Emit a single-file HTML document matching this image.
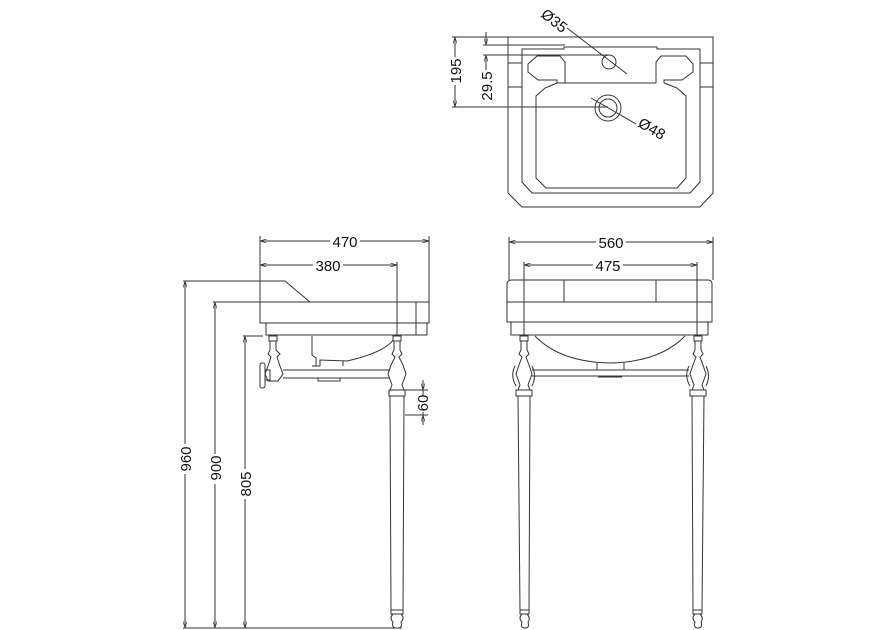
<!DOCTYPE html>
<html><head><meta charset="utf-8"><style>
html,body{margin:0;padding:0;background:#fff;}
svg{display:block;}
text{font-family:"Liberation Sans",sans-serif;font-size:15px;fill:#111;}
</style></head><body>
<svg width="891" height="630" viewBox="0 0 891 630" xmlns="http://www.w3.org/2000/svg">
<defs>
<marker id="a" viewBox="0 0 10 6" refX="10" refY="3" markerWidth="7" markerHeight="4" orient="auto-start-reverse"><path d="M0,0 L10,3 L0,6" fill="none" stroke="#333" stroke-width="1"/></marker>
</defs>
<g fill="none" stroke="#333" stroke-width="1">
<!-- TOP VIEW -->
<path d="M508,37 L713,37 L713,193 L700,207 L522,207 L508,193 Z"/>
<path d="M522,49 L564,49 L564,47 L657,47 L657,49 L700,49 L700,182 L690,193 L532,193 L522,182 Z"/>
<path d="M508,63 L522,63 M508,87 L522,87 M700,63 L713,63 M700,87 L713,87"/>
<path d="M537,56 L560,56 L565,62 L565,83 L557,83 L557,80 L538,80 L528,72 L528,64 Z"/>
<path d="M565,83 L656,83 L656,62 L661,56 L686,56 L693,64 L693,72 L682,80 L664,80 L664,83"/>
<path d="M557,83 L545,88 L536,96 L536,178 L546,188 L677,188 L686,178 L686,96 L677,88 L664,83"/>
<circle cx="609" cy="62" r="7"/>
<circle cx="608" cy="108" r="13"/><circle cx="608" cy="108" r="9"/>
<path d="M567,28 L627,74 M591,98 L636,124"/>
<path d="M452,37 L508,37 M452,107 L608,107"/>
<line x1="455" y1="107" x2="455" y2="37" marker-start="url(#a)" marker-end="url(#a)"/>
<path d="M483,45 L565,45 M483,55 L609,55"/>
<line x1="486" y1="32" x2="486" y2="45" marker-end="url(#a)"/>
<line x1="486" y1="100" x2="486" y2="55" marker-end="url(#a)"/>
<!-- SIDE VIEW -->
<line x1="260" y1="241" x2="429" y2="241" marker-start="url(#a)" marker-end="url(#a)"/>
<path d="M260,236 L260,302 M429,236 L429,302"/>
<line x1="260" y1="265" x2="397" y2="265" marker-start="url(#a)" marker-end="url(#a)"/>
<path d="M397,262 L397,335"/>
<path d="M183,281 L285,281 L310,302 M213,302 L260,302 M243,336 L263,336"/>
<rect x="260" y="302" width="169" height="21"/>
<path d="M266,323 L266,335 L427,335 L427,323 M416,302 L416,335"/>
<path d="M312,336 L312,355 L316,358 L316,366 M312,366 L320,366 L320,360 L347,361 Q385,352 393,340 M343,361 L343,366"/>
<line x1="185" y1="628" x2="185" y2="281" marker-start="url(#a)" marker-end="url(#a)"/>
<line x1="215" y1="628" x2="215" y2="302" marker-start="url(#a)" marker-end="url(#a)"/>
<line x1="245" y1="628" x2="245" y2="336" marker-start="url(#a)" marker-end="url(#a)"/>
<path d="M183,628 L402,628"/>
<path d="M269,336 L277,336 L277,341 L269,341 Z M270,341 L270,350 L268,354 L271,357 L268,366 L265,374 L268,381 L278,381 L283,374 L280,366 L277,357 L280,354 L276,350 L276,341"/>
<rect x="260" y="363" width="5" height="25" rx="2"/><path d="M265,370 L270,370 L270,380 L265,380"/>
<path d="M283,370 L390,370 M283,378 L390,378 M318,378 L318,381 L340,381 L340,378"/>
<path d="M393,336 L401,336 L401,341 L393,341 Z M394,341 L394,350 L392,354 L395,357 L391,365 L388,374 L392,385 L390,390 L404,390 L402,385 L406,374 L403,365 L399,357 L402,354 L400,350 L400,341"/>
<path d="M389,390 L405,390 L405,396 L389,396 Z M390,396 L391,610 L403,610 L404,396"/>
<path d="M391,610 L403,610 L403,614 L391,614 Z M393,614 Q389,618 393,622 Q391,628 397,628 Q403,628 401,622 Q405,618 401,614"/>
<line x1="423" y1="380" x2="423" y2="390" marker-end="url(#a)"/>
<line x1="423" y1="425" x2="423" y2="415" marker-end="url(#a)"/>
<path d="M405,390 L428,390 M405,415 L428,415 M423,390 L423,397 M423,410 L423,415"/>
<!-- FRONT VIEW -->
<line x1="509" y1="242" x2="713" y2="242" marker-start="url(#a)" marker-end="url(#a)"/>
<path d="M509,237 L509,280 M713,237 L713,280"/>
<line x1="524" y1="265" x2="697" y2="265" marker-start="url(#a)" marker-end="url(#a)"/>
<path d="M524,262 L524,336 M697,262 L697,336"/>
<path d="M512,280 L708,280 Q712,280 712,284 L712,322 L507,322 L507,284 Q507,280 512,280 Z"/>
<path d="M507,302 L712,302 M564,280 L564,302 M656,280 L656,302"/>
<path d="M511,322 L511,335 L708,335 L708,322"/>
<path d="M535,336 Q560,362 610,363 Q660,362 685,336"/>
<path d="M597,363 L597,370 M624,363 L624,370 M598,377 L622,377"/>
<path d="M520,336 L528,336 L528,341 L520,341 Z M521,341 L521,350 L519,354 L522,357 L519,365 L516,374 L520,385 L518,390 L530,390 L528,385 L532,374 L529,365 L526,357 L529,354 L527,350 L527,341"/>
<path d="M515,366 Q510,376 516,386 M532,366 Q537,376 532,386"/>
<path d="M694,336 L702,336 L702,341 L694,341 Z M695,341 L695,350 L693,354 L696,357 L693,365 L690,374 L694,385 L692,390 L704,390 L702,385 L706,374 L703,365 L700,357 L703,354 L701,350 L701,341"/>
<path d="M689,366 Q684,376 690,386 M706,366 Q711,376 706,386"/>
<path d="M532,370 L689,370 M532,376 L689,376"/>
<path d="M516,390 L532,390 L532,396 L516,396 Z M518,396 L520,610 L529,610 L530,396"/>
<path d="M520,610 L529,610 L529,614 L520,614 Z M522,614 Q518,618 522,622 Q520,628 525,628 Q530,628 528,622 Q531,618 527,614"/>
<path d="M690,390 L706,390 L706,396 L690,396 Z M692,396 L693,610 L702,610 L704,396"/>
<path d="M693,610 L702,610 L702,614 L693,614 Z M695,614 Q691,618 695,622 Q693,628 698,628 Q703,628 701,622 Q704,618 700,614"/>
</g>
<g stroke="none">
<rect x="330" y="233" width="30" height="16" fill="#fff"/>
<text x="345" y="247" text-anchor="middle">470</text>
<rect x="313" y="257" width="30" height="16" fill="#fff"/>
<text x="328" y="271" text-anchor="middle">380</text>
<rect x="596" y="234" width="30" height="16" fill="#fff"/>
<text x="611" y="248" text-anchor="middle">560</text>
<rect x="593" y="257" width="30" height="16" fill="#fff"/>
<text x="608" y="271" text-anchor="middle">475</text>
<rect x="177" y="444" width="16" height="30" fill="#fff"/>
<text transform="translate(191,459) rotate(-90)" text-anchor="middle">960</text>
<rect x="207" y="454" width="16" height="30" fill="#fff"/>
<text transform="translate(221,468) rotate(-90)" text-anchor="middle">900</text>
<rect x="237" y="469" width="16" height="30" fill="#fff"/>
<text transform="translate(251,484) rotate(-90)" text-anchor="middle">805</text>
<rect x="416" y="396" width="14" height="16" fill="#fff"/>
<text transform="translate(428,403) rotate(-90)" text-anchor="middle">60</text>
<rect x="447" y="57" width="16" height="28" fill="#fff"/>
<text transform="translate(461,71) rotate(-90)" text-anchor="middle">195</text>
<rect x="478" y="70" width="16" height="32" fill="#fff"/>
<text transform="translate(492,86) rotate(-90)" text-anchor="middle">29.5</text>
<text transform="translate(540,16) rotate(38)">Ø35</text>
<text transform="translate(637,126) rotate(30)">Ø48</text>
</g>
</svg>
</body></html>
